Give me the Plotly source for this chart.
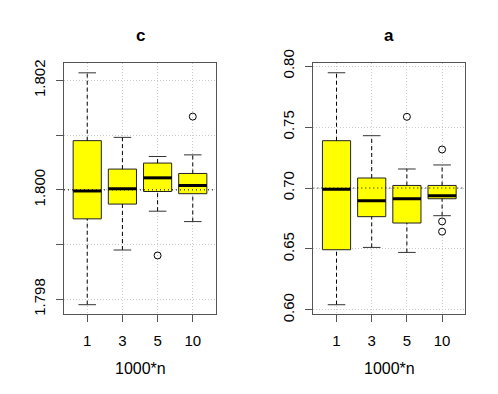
import plotly.graph_objects as go

# sample sizes (1000*n) and panel names
groups = ["1", "3", "5", "10"]
panels = ["c", "a"]
true_vals = [1.8, 0.7]

# panel "c" box statistics
c_lo = [1.79790, 1.79890, 1.79961, 1.79942]
c_q1 = [1.79947, 1.79974, 1.79997, 1.79993]
c_med = [1.79998, 1.80002, 1.80022, 1.80008]
c_q3 = [1.80090, 1.80038, 1.80049, 1.80030]
c_hi = [1.80214, 1.80096, 1.80061, 1.80064]
c_out_x = [3, 4]
c_out_y = [1.79880, 1.80134]

# panel "a" box statistics
a_lo = [0.6043, 0.6513, 0.6472, 0.6773]
a_q1 = [0.6494, 0.6765, 0.6713, 0.6912]
a_med = [0.6989, 0.6896, 0.6912, 0.6937]
a_q3 = [0.7388, 0.7082, 0.7021, 0.7021]
a_hi = [0.7945, 0.7429, 0.7156, 0.7189]
a_out_x = [3, 4, 4, 4]
a_out_y = [0.7584, 0.7316, 0.6726, 0.6642]

c_ticks = [1.798, 1.799, 1.800, 1.801, 1.802]
c_ticktext = ["1.798", "", "1.800", "", "1.802"]
a_ticks = [0.60, 0.65, 0.70, 0.75, 0.80]
a_ticktext = ["0.60", "0.65", "0.70", "0.75", "0.80"]

FONT = "Liberation Sans, Arial, sans-serif"
pos = [1, 2, 3, 4]

# page body has an 8px margin, so the figure is 8px smaller each way
W, H, OFF = 490, 386, 8


def px_x(v):
    return (v - OFF) / W


def px_y(v):
    return 1 - (v - OFF) / H


fig = go.Figure()


def segs(xs0, xs1, ys0, ys1):
    xx, yy = [], []
    for a, b, c, d in zip(xs0, xs1, ys0, ys1):
        xx += [a, b, None]
        yy += [c, d, None]
    return xx, yy


def add_panel(k, lo, q1, med, q3, hi, out_x, out_y):
    xa = "x" if k == 0 else "x2"
    ya = "y" if k == 0 else "y2"
    # whiskers (dashed)
    wx, wy = segs(pos + pos, pos + pos, lo + q3, q1 + hi)
    fig.add_trace(go.Scatter(x=wx, y=wy, mode="lines", xaxis=xa, yaxis=ya,
                             line=dict(color="black", width=1, dash="4px,3px"),
                             showlegend=False, hoverinfo="skip"))
    # caps
    cx, cy = segs([p - 0.25 for p in pos] * 2, [p + 0.25 for p in pos] * 2,
                  lo + hi, lo + hi)
    fig.add_trace(go.Scatter(x=cx, y=cy, mode="lines", xaxis=xa, yaxis=ya,
                             line=dict(color="#333", width=1),
                             showlegend=False, hoverinfo="skip"))
    # boxes
    fig.add_trace(go.Box(x=pos, q1=q1, median=med, q3=q3,
                         lowerfence=q1, upperfence=q3, width=0.8,
                         whiskerwidth=0, fillcolor="#ffff00",
                         line=dict(color="#222", width=1),
                         xaxis=xa, yaxis=ya, showlegend=False, hoverinfo="skip"))
    # medians (thick)
    mx, my = segs([p - 0.4 for p in pos], [p + 0.4 for p in pos], med, med)
    fig.add_trace(go.Scatter(x=mx, y=my, mode="lines", xaxis=xa, yaxis=ya,
                             line=dict(color="black", width=3),
                             showlegend=False, hoverinfo="skip"))
    # outliers
    fig.add_trace(go.Scatter(x=out_x, y=out_y, mode="markers", xaxis=xa, yaxis=ya,
                             marker=dict(symbol="circle-open", size=7,
                                         color="black", line=dict(width=1)),
                             showlegend=False, hoverinfo="skip"))
    # true value (dotted, on top)
    fig.add_trace(go.Scatter(x=[0.34, 4.66], y=[true_vals[k]] * 2, mode="lines",
                             xaxis=xa, yaxis=ya,
                             line=dict(color="black", width=1, dash="1px,3px"),
                             showlegend=False, hoverinfo="skip"))


add_panel(0, c_lo, c_q1, c_med, c_q3, c_hi, c_out_x, c_out_y)
add_panel(1, a_lo, a_q1, a_med, a_q3, a_hi, a_out_x, a_out_y)

xcommon = dict(range=[0.34, 4.66], tickvals=pos, ticktext=groups,
               showgrid=True, gridcolor="#cccccc", griddash="1px,2px", gridwidth=1,
               zeroline=False, showline=True, mirror=True, linecolor="#555",
               linewidth=1, ticks="outside", ticklen=7, tickcolor="#555",
               automargin=False, ticklabelstandoff=6,
               tickfont=dict(size=15, color="black", family=FONT))
ycommon = dict(showgrid=True, gridcolor="#cccccc", griddash="1px,2px", gridwidth=1,
               zeroline=False, showline=True, mirror=True, linecolor="#555",
               linewidth=1, ticks="outside", ticklen=7, tickcolor="#555",
               automargin=False, ticklabelstandoff=5,
               tickangle=-90, tickfont=dict(size=15, color="black", family=FONT))

ydom = [px_y(314), px_y(63)]
fig.update_layout(
    width=W, height=H,
    margin=dict(l=0, r=0, t=0, b=0, autoexpand=False),
    plot_bgcolor="white", paper_bgcolor="white",
    xaxis=dict(domain=[px_x(64), px_x(216)], anchor="y", **xcommon),
    yaxis=dict(domain=ydom, anchor="x", range=[1.79773, 1.80232],
               tickvals=c_ticks, ticktext=c_ticktext, **ycommon),
    xaxis2=dict(domain=[px_x(313.3), px_x(465.3)], anchor="y2", **xcommon),
    yaxis2=dict(domain=ydom, anchor="x2", range=[0.5967, 0.8025],
                tickvals=a_ticks, ticktext=a_ticktext, **ycommon),
)

centers = [px_x(140), px_x(389.3)]
for k in range(2):
    fig.add_annotation(text="<b>%s</b>" % panels[k], x=centers[k], y=px_y(35),
                       xref="paper", yref="paper", showarrow=False,
                       xanchor="center", yanchor="middle",
                       font=dict(size=17, family=FONT, color="black"))
    fig.add_annotation(text="1000*n", x=centers[k], y=px_y(368),
                       xref="paper", yref="paper", showarrow=False,
                       xanchor="center", yanchor="middle",
                       font=dict(size=16, family=FONT, color="black"))

fig.write_html("out.html")
